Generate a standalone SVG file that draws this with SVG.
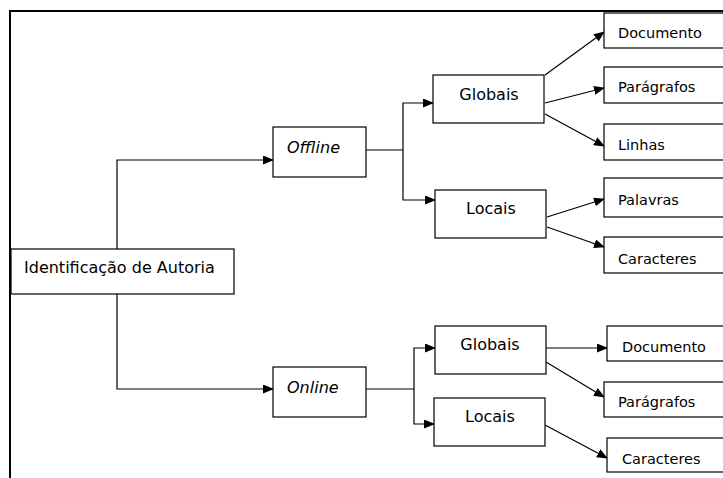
<svg xmlns="http://www.w3.org/2000/svg" width="723" height="478" viewBox="0 0 723 478">
<defs>
<marker id="ah" markerUnits="userSpaceOnUse" markerWidth="11" markerHeight="9" refX="10" refY="4.5" orient="auto">
<path d="M0,0 L11,4.5 L0,9 z" fill="#000"/>
</marker>
<style>
rect{fill:#fff;stroke:#000;stroke-width:1.2}
text{font-family:"DejaVu Sans",Verdana,sans-serif;fill:#000}
.big{font-size:16px}
.sm{font-size:14.5px}
.it{font-style:italic}
.c{text-anchor:middle}
#connectors path,#connectors line{fill:none;stroke:#000;stroke-width:1.2}
.ar{marker-end:url(#ah)}
</style>
</defs>
<rect width="723" height="478" style="fill:#fff;stroke:none"/>
<path d="M10,478 V11 H730" style="fill:none;stroke:#000;stroke-width:2"/>
<g id="connectors">
<path class="ar" d="M117,249 V160 H273"/>
<path class="ar" d="M117,294 V389 H273"/>
<path d="M366,150 H403"/>
<path class="ar" d="M403,150 V103 H433"/>
<path class="ar" d="M403,150 V200 H435"/>
<path d="M366,389 H414"/>
<path class="ar" d="M414,389 V348 H435"/>
<path class="ar" d="M414,389 V424 H434"/>
<line class="ar" x1="545" y1="75" x2="604" y2="32"/>
<line class="ar" x1="545" y1="103" x2="604" y2="88"/>
<line class="ar" x1="545" y1="114" x2="604" y2="146"/>
<line class="ar" x1="547" y1="217" x2="604" y2="199"/>
<line class="ar" x1="547" y1="227" x2="604" y2="247"/>
<line class="ar" x1="546" y1="348" x2="607" y2="348"/>
<line class="ar" x1="546" y1="362" x2="604" y2="397"/>
<line class="ar" x1="545" y1="425" x2="607" y2="458"/>
</g>
<g id="n-root"><rect x="11" y="249" width="223" height="45"/><text class="big" x="24" y="273">Identificação de Autoria</text></g>
<g id="n-offline"><rect x="273" y="127" width="93" height="50"/><text class="big it" x="287" y="153">Offline</text></g>
<g id="n-online"><rect x="273" y="367" width="93" height="50"/><text class="big it" x="287" y="393">Online</text></g>
<g id="n-glob1"><rect x="433" y="75" width="111" height="48"/><text class="big c" x="489" y="100">Globais</text></g>
<g id="n-loc1"><rect x="435" y="190" width="111" height="48"/><text class="big c" x="491" y="214">Locais</text></g>
<g id="n-glob2"><rect x="435" y="326" width="111" height="48"/><text class="big c" x="490" y="350">Globais</text></g>
<g id="n-loc2"><rect x="434" y="398" width="111" height="48"/><text class="big c" x="490" y="422">Locais</text></g>
<g id="n-doc1"><rect x="604" y="13" width="130" height="35"/><text class="sm" x="618" y="38">Documento</text></g>
<g id="n-par1"><rect x="604" y="67" width="130" height="36"/><text class="sm" x="618" y="92">Parágrafos</text></g>
<g id="n-lin1"><rect x="604" y="124" width="130" height="36"/><text class="sm" x="618" y="150">Linhas</text></g>
<g id="n-pal1"><rect x="604" y="178" width="130" height="39"/><text class="sm" x="618" y="205">Palavras</text></g>
<g id="n-car1"><rect x="604" y="237" width="130" height="36"/><text class="sm" x="618" y="264">Caracteres</text></g>
<g id="n-doc2"><rect x="607" y="326" width="130" height="35"/><text class="sm" x="622" y="352">Documento</text></g>
<g id="n-par2"><rect x="604" y="382" width="130" height="35"/><text class="sm" x="618" y="407">Parágrafos</text></g>
<g id="n-car2"><rect x="607" y="438" width="130" height="34"/><text class="sm" x="622" y="464">Caracteres</text></g>
</svg>
